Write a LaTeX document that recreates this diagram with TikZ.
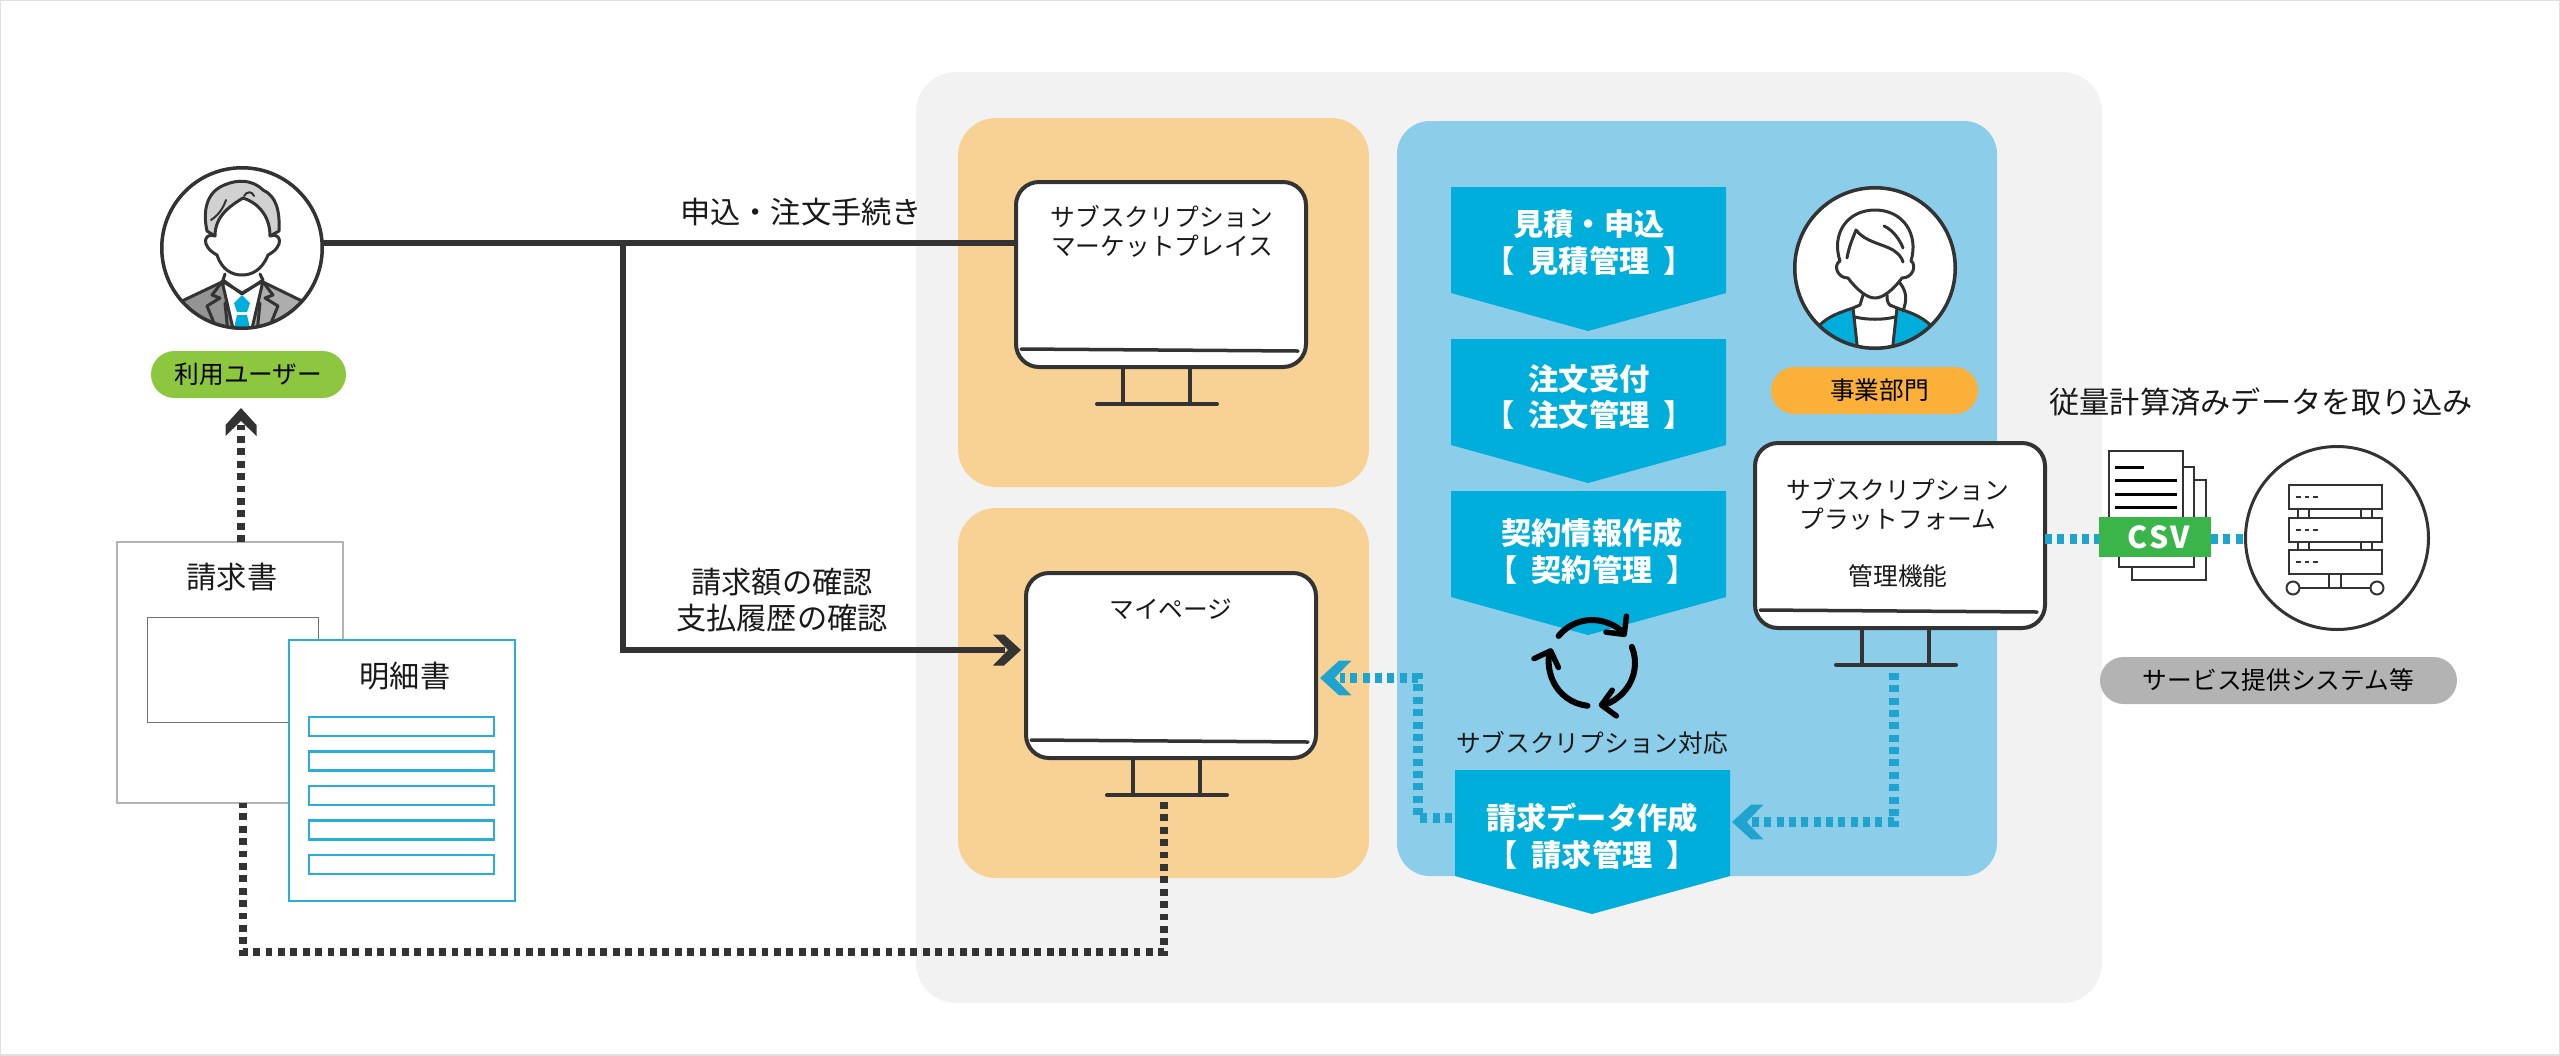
\documentclass[tikz,border=0pt]{standalone}
\usepackage{fontspec}
\setmainfont{Noto Sans CJK JP}
\usetikzlibrary{arrows.meta}
\definecolor{inkdark}{HTML}{333333}
\definecolor{panelgrey}{HTML}{F2F2F2}
\definecolor{panelorange}{HTML}{F8D195}
\definecolor{panelblue}{HTML}{8CCDEA}
\definecolor{stepblue}{HTML}{00AEDB}
\definecolor{flowblue}{HTML}{1EA4CE}
\definecolor{listblue}{HTML}{2AADD6}
\definecolor{pillgreen}{HTML}{8DC63F}
\definecolor{pillorange}{HTML}{FBB03A}
\definecolor{pillgrey}{HTML}{B3B3B3}
\definecolor{csvgreen}{HTML}{39B54A}
\newcommand{\smalltxt}{\fontsize{7.03}{8.3}\selectfont}
\newcommand{\largetxt}{\fontsize{8.6}{10.5}\selectfont}
\newcommand{\mgmt}[1]{【\hspace{1.4mm}#1\hspace{1.4mm}】}
\tikzset{
	pill/.style={minimum width=#1,minimum height=4.7mm,inner sep=0,outer sep=0,rounded corners=2.35mm,font=\smalltxt,text=black},
	steplabel/.style={align=center,inner sep=0,font=\largetxt\bfseries,text=white},
	txtsmall/.style={align=center,inner sep=0,font=\smalltxt,text=black!90},
	txtlarge/.style={align=center,inner sep=0,font=\largetxt,text=black!90},
	paper/.style={draw,fill=white,inner sep=0,outer sep=0},
	solidflow/.style={draw=inkdark,line width=.65mm},
	dotdark/.style={draw=inkdark,line width=.72mm,dash pattern=on .68mm off .56mm},
	dotblue/.style={draw=flowblue,line width=1mm,dash pattern=on .7mm off .535mm},
	face/.style={draw=inkdark,line width=.3mm,line join=round,line cap=round},
	cyclearc/.style={line width=.6mm,line cap=round,-{Straight Barb[round,length=1.3mm,width=2.6mm,line width=.55mm]}},
	pics/chevtip/.style={code={\fill[#1] (0,0) -- (17,-15.5) -- (28,-15.5) -- (13,0) -- (28,15.5) -- (17,15.5) -- cycle;}},
	pics/stepshape/.style={code={\fill[stepblue] (0,0) -- (275,0) -- (275,106) -- (137,144) -- (0,106) -- cycle;}},
	pics/monitor/.style={code={
		\draw[draw=inkdark,line width=.4mm] (109,189) -- (109,224) (176,189) -- (176,224);
		\draw[draw=inkdark,line width=.4mm,line cap=round] (83,224) -- (203,224);
		\node[draw=inkdark,fill=white,line width=.4mm,rounded corners=2.3mm,minimum width=29mm,minimum height=18.5mm,inner sep=0,outer sep=0] (-screen) at (147,94.5) {};
		\draw[draw=inkdark,line width=.35mm,line cap=round] (7,169) -- (284,171);
	}}
}
\begin{document}
\begin{tikzpicture}[x=.1mm,y=-.1mm]
	\useasboundingbox (0,0) rectangle (2560,1055);
	\draw[draw=black!12,line width=.2mm] (0,0) rectangle (2560,1055);
	% panels
	\fill[panelgrey,rounded corners=4mm] (916,72) rectangle (2102,1003);
	\fill[panelorange,rounded corners=3.8mm] (958,118) rectangle (1369,487);
	\fill[panelorange,rounded corners=3.8mm] (958,508) rectangle (1369,878);
	\fill[panelblue,rounded corners=3.3mm] (1397,121) rectangle (1997,876);
	% process steps
	\pic at (1451,187) {stepshape};
	\pic at (1451,339) {stepshape};
	\pic at (1451,491) {stepshape};
	\pic at (1455,770) {stepshape};
	\node[steplabel] (stepquote) at (1589,243) {見積・申込\\\mgmt{見積管理}};
	\node[steplabel] (steporder) at (1589,397) {注文受付\\\mgmt{注文管理}};
	\node[steplabel] (stepcontract) at (1592,551) {契約情報作成\\\mgmt{契約管理}};
	\node[steplabel] (stepbilling) at (1592,836) {請求データ作成\\\mgmt{請求管理}};
	% cycle
	\coordinate (cyclemid) at (1592,663);
	\draw[cyclearc] (cyclemid) ++(-141:43) arc (-141:-38:43);
	\draw[cyclearc] (cyclemid) ++(-22:43) arc (-22:81:43);
	\draw[cyclearc] (cyclemid) ++(96:43) arc (96:200:43);
	\node[txtsmall] (cyclelabel) at (1592,743) {サブスクリプション対応};
	% monitors
	\pic (market) at (1014,180) {monitor};
	\pic (mypage) at (1024,571) {monitor};
	\pic (platform) at (1753,441) {monitor};
	\node[txtsmall] (marketlabel) at (1162,231) {サブスクリプション\\マーケットプレイス};
	\node[txtsmall] (mypagelabel) at (1171,609) {マイページ};
	\node[txtsmall] (platformlabel) at (1898,504) {サブスクリプション\\プラットフォーム};
	\node[txtsmall] (adminlabel) at (1898,576) {管理機能};
	% users
	\node[circle,draw=inkdark,fill=white,line width=.3mm,minimum size=16.1cm/10,inner sep=0,outer sep=0] (usercircle) at (242,248) {};
	\begin{scope}[shift={(242,248)}]
		\clip (0,0) circle (80);
		\fill[black!42] (-62,54) -- (-20,33) -- (-8,85) -- (-62,85) -- cycle;
		\fill[black!32] (62,54) -- (21,33) -- (9,85) -- (62,85) -- cycle;
		\draw[face] (-60,53) -- (-20,34) (60,53) -- (21,34);
		\draw[face] (-20,34) -- (-30,47) -- (-22,50) -- (-35,58) -- (-28,75) (21,34) -- (31,47) -- (23,50) -- (36,58) -- (29,75);
		\draw[face,fill=white] (-20,33) -- (-8,85) -- (9,85) -- (21,33) -- (0,45) -- cycle;
		\draw[face] (-17,26) -- (-19,32) -- (0,46) -- (21,32) -- (18,26);
		\draw[face] (-17,55) -- (-14,85) (18,55) -- (15,85);
		\fill[stepblue] (0,47) -- (8,55) -- (5,64) -- (-5,64) -- (-8,55) -- cycle;
		\fill[stepblue] (-5,67) -- (5,67) -- (8,80) -- (-8,80) -- cycle;
		\draw[face,fill=black!18] (-35,-17) .. controls (-40,-40) and (-34,-58) .. (-15,-64) .. controls (-5,-68) and (10,-69) .. (21,-58) .. controls (34,-52) and (38,-38) .. (37,-17) -- (28,-12) -- (-27,-12) -- cycle;
		\draw[face,fill=white] (-27,-12) .. controls (-27,-32) and (-12,-42) .. (1,-50) .. controls (14,-46) and (28,-34) .. (28,-12) .. controls (39,-16) and (43,-2) .. (26,7) .. controls (20,22) and (10,27) .. (0,27) .. controls (-10,27) and (-20,22) .. (-25,7) .. controls (-42,-2) and (-38,-16) .. (-27,-12) -- cycle;
		\draw[face,line width=.2mm] (-31,-28) .. controls (-22,-34) and (-18,-42) .. (-16,-48) (2,-52) .. controls (5,-57) and (10,-57) .. (12,-52);
	\end{scope}
	\draw[draw=inkdark,line width=.3mm] (242,248) circle (80);
	\node[pill=19.5cm/10,fill=pillgreen] (userpill) at (248.5,374.5) {利用ユーザー};
	\node[circle,draw=inkdark,fill=white,line width=.3mm,minimum size=16.1cm/10,inner sep=0,outer sep=0] (staffcircle) at (1875,268) {};
	\begin{scope}[shift={(1875,268)}]
		\clip (0,0) circle (80);
		\draw[face,fill=stepblue] (-60,62) .. controls (-50,50) and (-40,46) .. (-22,40) -- (-17,85) -- (-60,85) -- cycle;
		\draw[face,fill=stepblue] (60,62) .. controls (50,50) and (40,46) .. (22,40) -- (17,85) -- (60,85) -- cycle;
		\draw[face] (-15,37) -- (-22,40) (15,37) -- (22,40) (-20,49) .. controls (-8,52) and (8,52) .. (20,49);
		\draw[face] (-12,27) -- (-15,37) (12,27) .. controls (12,33) and (13,36) .. (16,38);
		\draw[face] (25,15) .. controls (32,24) and (32,32) .. (28,43);
		\draw[face] (-35,-7) .. controls (-44,-34) and (-28,-58) .. (0,-58) .. controls (28,-58) and (44,-34) .. (36,-7) .. controls (42,-3) and (38,10) .. (27,10) .. controls (18,22) and (8,30) .. (0,30) .. controls (-8,30) and (-18,22) .. (-27,10) .. controls (-38,10) and (-42,-3) .. (-35,-7);
		\draw[face] (-28,-10) .. controls (-26,-22) and (-22,-30) .. (-19,-38) .. controls (-10,-26) and (8,-24) .. (18,-18) .. controls (24,-14) and (27,-10) .. (28,-6);
		\draw[face] (9,-42) .. controls (18,-38) and (25,-28) .. (28,-20);
	\end{scope}
	\draw[draw=inkdark,line width=.3mm] (1875,268) circle (80);
	\node[pill=20.7cm/10,fill=pillorange] (staffpill) at (1874.5,390.5) {\hspace*{1mm}事業部門};
	% invoice papers
	\node[paper,draw=pillgrey,line width=.2mm,minimum width=22.6mm,minimum height=26.1mm] (invoice) at (230,672.5) {};
	\node[paper,draw=black!55,line width=.15mm,minimum width=17.1mm,minimum height=10.5mm] (invoicearea) at (233,670) {};
	\node[txtlarge] (invoicelabel) at (232,577) {請求書};
	\node[paper,draw=listblue,line width=.25mm,minimum width=22.6mm,minimum height=26.1mm] (statement) at (402,770.5) {};
	\node[txtlarge] (statementlabel) at (405,676) {明細書};
	\foreach \y in {717,751.5,786,820.5,855}
		\draw[draw=listblue,line width=.25mm] (309,\y) rectangle (494,\y+19);
	% connectors
	\coordinate (split) at (623,243);
	\coordinate (paycorner) at (623,650);
	\draw[solidflow] (usercircle.east |- split) -- (split -| market-screen.west);
	\draw[solidflow] (split) -- (paycorner) -- (1005,650);
	\pic[rotate=180] at (1021,650) {chevtip={inkdark}};
	\node[txtlarge] (applylabel) at (801,212) {申込・注文手続き};
	\node[txtlarge] (paylabel) at (782,600) {請求額の確認\\支払履歴の確認};
	\coordinate (billcorner) at (243,952);
	\coordinate (billstart) at (1164,802);
	\draw[dotdark] (billstart) -- (billstart |- billcorner) -- (billcorner) -- (invoice.south -| billcorner);
	\draw[dotdark] (invoice.north -| 241,0) -- (241,425);
	\pic[rotate=-90] at (241,408) {chevtip={inkdark}};
	\coordinate (platformdrop) at (1894,673);
	\coordinate (billinghook) at (1418,818);
	\draw[dotblue] (platformdrop) -- (1894,822) -- (1752,822);
	\pic[scale=1.12] at (1732,822) {chevtip={flowblue}};
	\draw[dotblue] (1452,818) -- (billinghook) -- (1418,678) -- (1340,678);
	\pic[scale=1.12] at (1320,678) {chevtip={flowblue}};
	% csv and server
	\node[txtlarge] (importlabel) at (2261,402) {従量計算済みデータを取り込み};
	\draw[draw=inkdark,line width=.15mm,fill=white] (2132,480) rectangle (2206,580);
	\draw[draw=inkdark,line width=.15mm,fill=white] (2119,467) rectangle (2194,567);
	\draw[draw=inkdark,line width=.15mm,fill=white] (2109,451) rectangle (2183,550);
	\draw[line width=.3mm] (2115,467) -- (2144,467) (2115,480) -- (2177,480) (2115,494) -- (2177,494) (2115,507) -- (2177,507);
	\node[fill=csvgreen,minimum width=11.2mm,minimum height=4mm,inner sep=0,outer sep=0,font=\largetxt\bfseries,text=white] (csv) at (2155,537) {\hspace*{.8mm}\addfontfeature{LetterSpace=8}CSV};
	\node[circle,draw=inkdark,fill=white,line width=.3mm,minimum size=18.3cm/10,inner sep=0,outer sep=0] (servercircle) at (2337,538) {};
	\draw[dotblue] (platform-screen.east |- 0,539) -- (csv.west |- 0,539);
	\draw[dotblue] (csv.east |- 0,539) -- (servercircle.west |- 0,539);
	\foreach \y in {485,518,550}{
		\draw[draw=inkdark,line width=.2mm] (2289,\y) rectangle (2382,\y+24);
		\draw[draw=inkdark,line width=.2mm,dash pattern=on .45mm off .4mm] (2296,\y+12) -- (2319,\y+12);
	}
	\foreach \x in {2298,2361}
		\draw[draw=inkdark,line width=.2mm] (\x,509) rectangle (\x+11,518) (\x,542) rectangle (\x+11,550);
	\draw[draw=inkdark,line width=.2mm] (2329,574) rectangle (2341,588) (2299,588) -- (2371,588);
	\draw[draw=inkdark,line width=.2mm,fill=white] (2293,588) circle (6.5) (2377,588) circle (6.5);
	\node[pill=35.7cm/10,fill=pillgrey] (systempill) at (2278.5,680.5) {サービス提供システム等};
\end{tikzpicture}
\end{document}
